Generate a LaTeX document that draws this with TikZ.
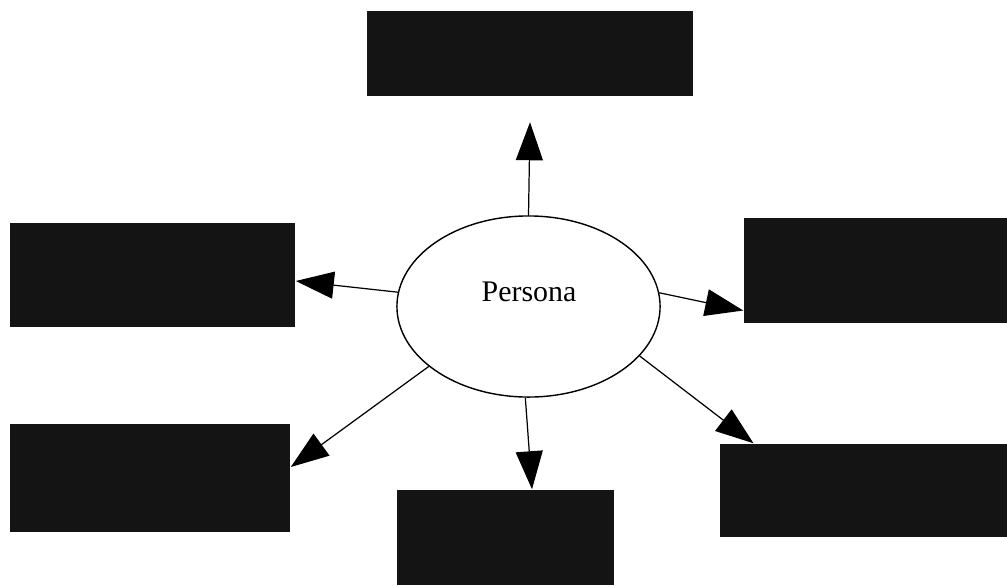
\documentclass[tikz,border=0pt]{standalone}
\usepackage{fontspec}
\setmainfont{Liberation Serif}
\usetikzlibrary{shapes.geometric,arrows.meta,calc}
\begin{document}
\begin{tikzpicture}[x=0.01cm,y=-0.01cm,
  darkbox/.style={rectangle,draw=none,fill=black!92,inner sep=0pt},
  hub/.style={ellipse,draw=black,line width=0.4pt,fill=white,inner sep=0pt,minimum width=2.63cm,minimum height=1.81cm},
  link/.style={draw=black,line width=0.35pt,-{Triangle[length=3.8mm,width=2.7mm]}},
  lbl/.style={font=\fontsize{8.5}{10}\selectfont,inner sep=0pt}]
\useasboundingbox (0,0) rectangle (1007,585);
% boxes
\node[darkbox,minimum width=3.26cm,minimum height=0.85cm] (top) at (530,53.5) {};
\node[darkbox,minimum width=2.85cm,minimum height=1.04cm] (lu) at (152.5,275) {};
\node[darkbox,minimum width=2.63cm,minimum height=1.05cm] (ru) at (875.5,270.5) {};
\node[darkbox,minimum width=2.80cm,minimum height=1.08cm] (ll) at (150,478) {};
\node[darkbox,minimum width=2.17cm,minimum height=0.95cm] (bt) at (505.5,537.5) {};
\node[darkbox,minimum width=2.87cm,minimum height=0.93cm] (rl) at (863.5,490.5) {};
% hub
\node[hub] (p) at (528.5,306.5) {};
\node[lbl] (pl) at (529,292) {Persona};
% connectors
\draw[link] (p.north) -- ($(top.south)+(0,25.5)$);
\draw[link] (p) -- ($(lu.east)+(0,6)$);
\draw[link] (p.6) -- ($(ru.west)+(0,40)$);
\draw[link] (p.211) -- ($(ll.east)+(0,-11)$);
\draw[link] (p.268) -- ($(bt.north)+(26.5,0)$);
\draw[link] (p.-24) -- ($(rl.north)+(-110,0)$);
\end{tikzpicture}
\end{document}
